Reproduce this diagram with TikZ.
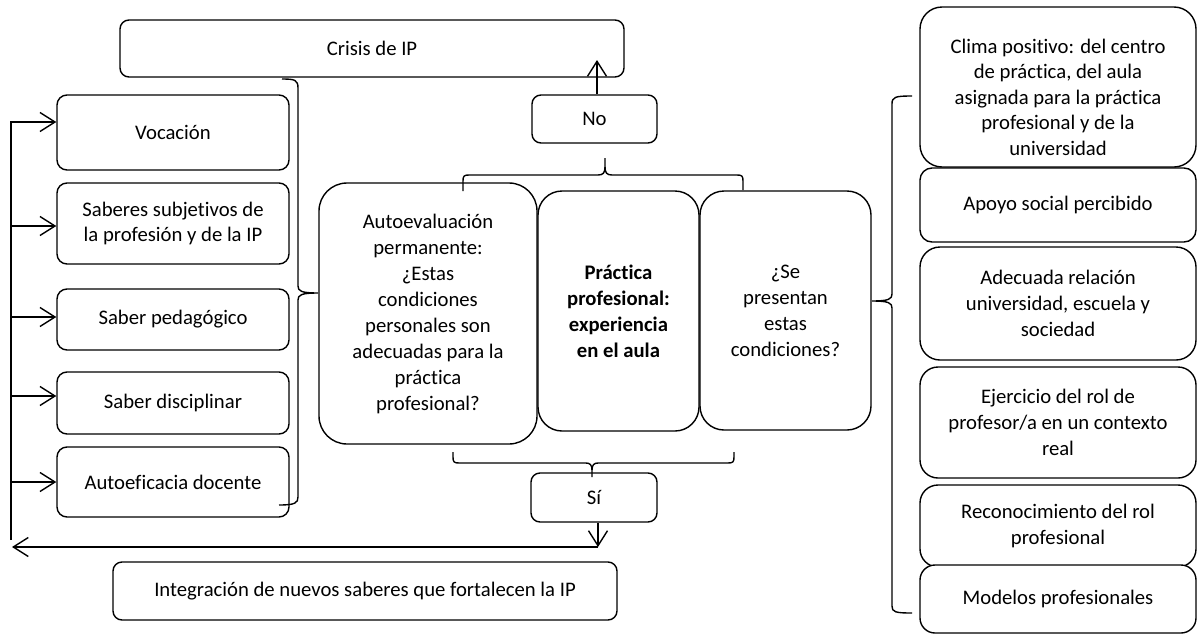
\documentclass[tikz,border=0pt]{standalone}
\usepackage{fontspec}
\setmainfont{Carlito}[Ligatures=NoCommon]
\usetikzlibrary{arrows.meta}

\begin{document}
\begin{tikzpicture}[x=1pt,y=-1pt,line width=1.4pt]
\tikzstyle{every node}+=[inner sep=0pt]
\tikzstyle{caja}=[draw=black,fill=white,rectangle,align=center,font=\fontsize{20.7}{26}\selectfont]
\tikzstyle{flecha}=[-{Straight Barb[length=15pt,width=19pt]}]
\useasboundingbox (0,0) rectangle (1197,635);
\node [caja,rounded corners=9pt,minimum width=504pt,minimum height=57pt] (crisis) at (372,48.5) {Crisis de IP};
\node [caja,rounded corners=10pt,minimum width=232pt,minimum height=75pt] (voc) at (173,132.5) {Vocación};
\node [caja,rounded corners=10pt,minimum width=232pt,minimum height=81pt,font=\fontsize{20.7}{24.5}\selectfont] (subj) at (173,223.5) {Saberes subjetivos de\\la profesión y de la IP};
\node [caja,rounded corners=10pt,minimum width=232pt,minimum height=61pt] (ped) at (173,319.5) {Saber pedagógico};
\node [caja,rounded corners=10pt,minimum width=232pt,minimum height=62pt] (disc) at (173,403) {Saber disciplinar};
\node [caja,rounded corners=10pt,minimum width=232pt,minimum height=70pt] (autoef) at (173,482) {Autoeficacia docente};
\node [caja,rounded corners=9pt,minimum width=504pt,minimum height=58pt] (integ) at (365,591) {Integración de nuevos saberes que fortalecen la IP};
\node [caja,rounded corners=28pt,minimum width=218pt,minimum height=261pt] (autoev) at (428,313.5) {Autoevaluación\\permanente:\\¿Estas\\condiciones\\personales son\\adecuadas para la\\práctica\\profesional?};
\node [caja,rounded corners=24pt,minimum width=161pt,minimum height=240pt,font=\fontsize{20.7}{26}\selectfont\bfseries] (pract) at (618.5,311) {Práctica\\profesional:\\experiencia\\en el aula};
\node [caja,rounded corners=24pt,minimum width=171pt,minimum height=239pt] (cond) at (785.5,310.5) {¿Se\\presentan\\estas\\condiciones?};
\node [caja,rounded corners=9pt,minimum width=125pt,minimum height=48pt] (no) at (594.5,119) {No};
\node [caja,rounded corners=9pt,minimum width=126pt,minimum height=49pt] (si) at (594,497.5) {Sí};
\node [caja,rounded corners=22pt,minimum width=276pt,minimum height=160pt] (clima) at (1058,87) {};
\node [align=center,font=\fontsize{20.7}{25.5}\selectfont] (climatxt) at (1058,97) {Clima positivo: del centro\\de práctica, del aula\\asignada para la práctica\\profesional y de la\\universidad};
\node [caja,rounded corners=12pt,minimum width=276pt,minimum height=74pt] (apoyo) at (1058,205) {Apoyo social percibido};
\node [caja,rounded corners=20pt,minimum width=276pt,minimum height=113pt] (relac) at (1058,303.5) {Adecuada relación\\universidad, escuela y\\sociedad};
\node [caja,rounded corners=18pt,minimum width=276pt,minimum height=111pt] (rol) at (1058,422.5) {Ejercicio del rol de\\profesor/a en un contexto\\real};
\node [caja,rounded corners=18pt,minimum width=276pt,minimum height=82pt] (recon) at (1058,526) {Reconocimiento del rol\\profesional};
\node [caja,rounded corners=15pt,minimum width=276pt,minimum height=68pt] (model) at (1058,599) {Modelos profesionales};
\draw [flecha] (597,0 |- no.north) -- (597,60);
\draw [flecha] (598,0 |- si.south) -- (598,547);
\draw [flecha] (598,547) -- (12,547);
\draw [flecha] (11,540) -- (11,122) -- (voc.west |- 0,122);
\foreach \n/\y in {subj/226,ped/317,disc/396,autoef/482}
  \draw [flecha] (11,\y) -- (\n.west |- 0,\y);
\draw (282,79) .. controls (295,79) and (298,80) .. (298,88) -- (298,286) .. controls (298,291) and (301,293) .. (318,293) .. controls (301,293) and (298,295) .. (298,300) -- (298,497) .. controls (298,503) and (295,505) .. (279,505);
\draw (463,191) -- (463,181) .. controls (463,176) and (464,175) .. (469,175) -- (598,175) .. controls (603,175) and (605,173) .. (605,167) -- (605,158);
\draw (605,167) .. controls (605,173) and (607,175) .. (612,175) -- (737,175) .. controls (742,175) and (743,176) .. (743,181) -- (743,190);
\draw (453,452) -- (453,457) .. controls (453,462) and (454,463) .. (459,463) -- (586,463) .. controls (590,463) and (592,465) .. (592,470) -- (592,477);
\draw (592,470) .. controls (592,465) and (594,463) .. (598,463) -- (728,463) .. controls (733,463) and (734,462) .. (734,457) -- (734,452);
\draw (912,96) .. controls (895,96) and (892,97) .. (892,104) -- (892,294) .. controls (892,299) and (889,301) .. (872,301) .. controls (889,301) and (892,303) .. (892,308) -- (892,606) .. controls (892,612) and (895,613) .. (912,613);
\end{tikzpicture}
\end{document}
